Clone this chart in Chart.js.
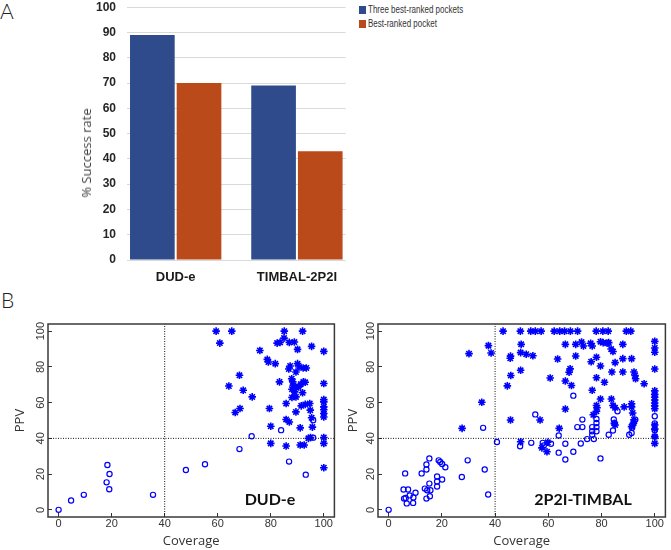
<!DOCTYPE html>
<html>
<head>
<meta charset="utf-8">
<title>Pocket prediction</title>
<script src="https://cdn.jsdelivr.net/npm/chart.js@4.4.0/dist/chart.umd.min.js"></script>
<style>
  body { margin: 0; width: 671px; height: 550px; position: relative; overflow: hidden; background: #fff; }
  .box { position: absolute; }
  .panel { position: absolute; font-family: Lato, sans-serif; font-weight: 300; font-size: 21px; line-height: 21px; color: #222; }
  .tag { position: absolute; transform: translateX(-50%); font-family: Lato, sans-serif; font-weight: bold; font-size: 16px; line-height: 16px; color: #111; white-space: nowrap; }
  #ytitle { position: absolute; left: 86px; top: 153px; transform: translate(-50%, -50%) rotate(-90deg); font: 13px 'Open Sans', sans-serif; color: #404040; white-space: nowrap; }
  #legend { position: absolute; left: 359px; top: 3px; font: 10px 'Liberation Sans', sans-serif; color: #333; }
  #legend div { height: 13.5px; line-height: 13.5px; white-space: nowrap; }
  #legend span.key { display: inline-block; width: 7px; height: 8px; margin-right: 2px; vertical-align: -1px; }
  #legend span.txt { display: inline-block; transform: scaleX(0.8); transform-origin: 0 50%; }
</style>
</head>
<body>
<div class="panel" style="left:0;top:0">A</div>
<div class="panel" style="left:1px;top:289px">B</div>

<div class="box" style="left:0;top:0"><canvas id="chartBar" width="347" height="300"></canvas></div>
<div id="ytitle">% Success rate</div>
<div id="legend"></div>

<div class="box" style="left:0;top:310px"><canvas id="chartDud" width="340" height="240"></canvas></div>
<div class="box" style="left:340px;top:310px"><canvas id="chartTimbal" width="331" height="240"></canvas></div>
<div class="tag" style="left:270px;top:491px">DUD-e</div>
<div class="tag" style="left:583px;top:491px">2P2I-TIMBAL</div>

<script>
// Panel A: success rates per benchmark
var categories = ['DUD-e', 'TIMBAL-2P2I'];
var threeBest = [89, 69];
var bestRanked = [70, 43];
var barTicks = [0, 10, 20, 30, 40, 50, 60, 70, 80, 90, 100];

// Panel B: coverage / PPV of predicted pockets, [coverage, ppv]
var scatterTicks = [0, 20, 40, 60, 80, 100];
var cutoff = 40;

var dudStars = [
  [59.4, 100], [65.3, 100], [85.1, 100], [92, 100], [60.8, 93.3], [85, 96.1], [82.4, 93.3], [83.5, 93.7],
  [87, 93.7], [88.9, 93.9], [95.4, 91.5], [90.1, 89.8], [100, 88.7], [75.9, 89.2], [78.7, 84.2], [79.1, 82.7],
  [81.7, 81.8], [90.1, 81.8], [90.7, 79.9], [87.3, 80.5], [86.8, 78.8], [92.2, 79.4], [93.4, 79.4], [89.5, 77.1],
  [68.2, 75.3], [87.9, 73.4], [88.3, 71.6], [83.3, 71.6], [92.3, 71.6], [93, 71.4], [91.3, 70.3], [100, 70.7],
  [64.2, 69.3], [69.6, 66.9], [88.5, 69.5], [89.5, 68.5], [88, 67.5], [89, 66], [92, 65.5], [90.5, 68.8],
  [73, 63.2], [88, 62.9], [89.5, 63.2], [85.8, 59.5], [91.5, 58.2], [93, 59], [94.7, 59.5], [100, 61.7],
  [100, 60.4], [100, 57.6], [100, 56], [100, 53.9], [100, 52], [79.5, 56.7], [66.6, 54.5], [68.4, 56.7],
  [89.5, 54.8], [94.9, 55.8], [95.4, 51.5], [85.8, 50.6], [87, 49.2], [80, 46.8], [91.1, 45.9], [95.7, 46.3],
  [94.2, 40], [95, 40.5], [100, 40.5], [80, 37.2], [85.8, 35.7], [91.1, 36.3], [92.6, 36.3], [100, 37.2],
  [100, 23.6]
];
var dudCircles = [
  [0, 0], [4.7, 5.2], [9.5, 8.4], [18.4, 25.1], [19.2, 20.1], [18.1, 15.4], [19.1, 11.5], [35.6, 8.4],
  [48, 22.3], [55.2, 25.5], [68.2, 34], [72.8, 41.2], [83.9, 44.6], [86.9, 27], [93.2, 19.7], [96, 40.4],
  [96, 50.2]
];

var timbalStars = [
  [43, 100], [49.5, 100], [53.4, 100], [55.1, 100], [57.3, 100], [62.2, 100], [64.3, 100], [66.1, 100],
  [68.3, 100], [71, 100], [78, 100], [80.5, 100], [82.5, 100], [89.3, 100], [91, 100],
  [30.2, 87.4], [37.5, 91.9], [38.5, 87.8], [35, 60.2], [27.6, 45.6],
  [49.8, 92.6], [49.6, 88], [51.7, 87.1], [54.2, 86.2], [45.8, 86], [45.7, 84.8], [49.6, 78.1], [45.9, 75.2],
  [44.6, 69.4], [45.8, 50.3], [49.6, 38.1], [56.9, 50.3], [60.7, 73.8], [63.5, 84.4], [64.1, 45.6], [59.8, 37.8],
  [59.5, 32.5], [57.6, 34.7], [66.4, 92.6], [70.3, 92.6], [72.5, 93.9], [73.2, 91.7], [75.9, 93.2], [76.5, 91.7],
  [79.6, 94.1], [80.6, 93.6], [82.1, 93.2], [82.7, 93.6], [83.6, 90], [84.3, 88.6], [88, 92.6],
  [70.3, 86.1], [76.1, 82.9], [78.1, 85.4], [68.2, 78.9], [67.8, 77], [79.6, 80.5], [85.1, 82.4], [88, 84.6],
  [91.3, 84.6], [83.9, 77.1], [88, 77.1], [78.1, 73.9], [81.1, 71.4], [92.2, 77.1], [92.6, 75.2], [92.8, 73.4],
  [96, 70.6], [66.4, 72.1], [68.7, 69.6], [76.5, 66.9], [79.6, 62], [83.7, 62], [78.1, 58.4], [78.3, 57.1],
  [78.1, 55.2], [76.9, 53.2], [84.3, 58.4], [85.1, 57.1], [88.5, 57.6], [91.3, 59.4], [91.3, 57.6], [91.7, 54.2],
  [92.2, 50.4], [92, 48.5], [91.3, 46.6], [66.4, 56.4], [84.8, 48.4], [85.1, 47.5],
  [100, 94.3], [100, 90.6], [100, 88.2], [100, 78.8], [100, 66.6], [100, 64.6], [100, 63], [100, 61.5],
  [100, 59.8], [100, 58.2], [100, 56.6], [100, 47.5], [100, 45.2], [100, 41], [100, 37.2]
];
var timbalCircles = [
  [0, 0], [6.2, 20.4], [5.6, 11.4], [7.3, 11.4], [5.8, 6.3], [6.4, 6.6], [6.8, 3.6], [7.9, 8.1],
  [9.3, 6.9], [9.2, 3.9], [10.1, 9.6], [12.4, 20.4], [14.2, 22.6], [14.2, 25.4], [15.3, 28.8], [13.6, 11.9],
  [14.5, 11], [15.7, 11], [15.3, 14.7], [15.5, 7.6], [14.2, 6.3], [18.2, 18.7], [18.2, 15.9], [18.2, 13.1],
  [20.1, 17], [18.8, 27.7], [19.4, 26.8], [20.1, 25.7], [21.3, 23.8], [29.7, 27.7], [27.5, 18.4], [36.1, 22.6],
  [37.4, 8.6], [35.5, 45.9], [40.7, 38], [49.4, 35.6],
  [55.1, 53.4], [53.6, 37.5], [57.9, 37.5], [58.3, 36], [61, 37], [63.9, 32], [66.4, 37], [66.4, 28.2],
  [69.4, 32.5], [63.9, 41.6], [69.4, 63.9], [70.9, 46.3], [72.8, 46.3], [72.8, 50.5], [72.2, 37.1], [74.6, 39.6],
  [76.5, 46.3], [78.1, 46.3], [76.5, 44], [78.1, 44], [76.5, 42], [77.1, 39.6], [78.1, 48.6], [78.1, 50.8],
  [79.6, 28.8], [82.7, 42], [84.3, 44.4], [84.9, 48.5], [84.6, 50.6], [86, 55.2], [90.4, 42], [91.3, 43],
  [91.5, 46], [92, 48.5], [92.7, 50.5], [100, 52.4], [100, 48.4], [100, 44.5], [100, 41]
];

var plainFont = "'Liberation Sans', Arial, sans-serif";

// Bar chart (panel A)
function loadBarChart() {
  var toPoints = function(values) {
    return categories.map(function(c, i) { return { x: i, y: values[i] }; });
  };
  var ctx = document.getElementById('chartBar').getContext('2d');
  var chart = new Chart(ctx, {
    type: 'bar',
    data: {
      datasets: [
        { label: 'Three best-ranked pockets', data: toPoints(threeBest), backgroundColor: '#2f4b8c',
          categoryPercentage: 0.77, barPercentage: 0.957 },
        { label: 'Best-ranked pocket', data: toPoints(bestRanked), backgroundColor: '#bb4a1b',
          categoryPercentage: 0.77, barPercentage: 0.957 }
      ]
    },
    options: {
      responsive: false,
      animation: false,
      plugins: { legend: { display: false }, tooltip: { enabled: false } },
      scales: {
        x: {
          type: 'linear', min: -0.4016, max: 1.4016, offset: false,
          grid: { display: false, drawTicks: false, offset: false }, border: { display: false },
          afterBuildTicks: function(s) { s.ticks = categories.map(function(c, i) { return { value: i }; }); },
          afterFit: function(s) { s.height = 40; },
          ticks: {
            callback: function(v) { return categories[v]; },
            font: { family: plainFont, size: 13, weight: 'bold' }, color: '#1a1a1a', padding: 10, maxRotation: 0
          }
        },
        y: {
          min: 0, max: 100,
          afterBuildTicks: function(s) { s.ticks = barTicks.map(function(v) { return { value: v }; }); },
          afterFit: function(s) { s.width = 127; },
          // invisible tick marks push the labels left without adding top padding
          grid: { color: '#d9d9d9', drawTicks: true, tickLength: 11, tickColor: 'rgba(0,0,0,0)' },
          border: { display: false },
          ticks: { font: { family: plainFont, size: 12, weight: 'bold' }, color: '#262626', padding: 0 }
        }
      }
    }
  });

  // HTML legend built from the datasets
  var legend = document.getElementById('legend');
  chart.data.datasets.forEach(function(ds) {
    var row = document.createElement('div');
    row.innerHTML = '<span class="key" style="background:' + ds.backgroundColor + '"></span>' +
      '<span class="txt">' + ds.label + '</span>';
    legend.appendChild(row);
  });
}

// Box around the plot region, R style
var framePlugin = {
  id: 'frame',
  afterDraw: function(chart) {
    var a = chart.chartArea;
    var ctx = chart.ctx;
    ctx.save();
    ctx.strokeStyle = '#3a3a3a';
    ctx.lineWidth = 1.5;
    ctx.strokeRect(a.left, a.top, a.right - a.left, a.bottom - a.top);
    ctx.restore();
  }
};

// Scatter chart (panel B)
function loadScatter(canvasId, stars, circles, box) {
  var toPoints = function(list) {
    return list.map(function(p) { return { x: p[0], y: p[1] }; });
  };
  var tickFont = { family: plainFont, size: 11 };
  var titleFont = { family: "'Open Sans', sans-serif", size: 13 };
  var setTicks = function(s) { s.ticks = scatterTicks.map(function(v) { return { value: v }; }); };
  var refLine = { showLine: true, borderColor: '#111', borderWidth: 1, borderDash: [1, 1.5], pointRadius: 0 };

  var ctx = document.getElementById(canvasId).getContext('2d');
  new Chart(ctx, {
    type: 'scatter',
    data: {
      datasets: [
        Object.assign({ data: [{ x: cutoff, y: -4 }, { x: cutoff, y: 104 }] }, refLine),
        Object.assign({ data: [{ x: -4, y: cutoff }, { x: 104, y: cutoff }] }, refLine),
        { data: toPoints(circles), pointStyle: 'circle', pointRadius: 2.6, borderWidth: 1.2,
          borderColor: '#0000ff', backgroundColor: 'rgba(0,0,0,0)' },
        { data: toPoints(stars), pointStyle: 'star', pointRadius: 3.8, borderWidth: 1.6,
          borderColor: '#0000ff', backgroundColor: 'rgba(0,0,0,0)' }
      ]
    },
    options: {
      responsive: false,
      animation: false,
      layout: { padding: { top: 14, right: box.padRight, left: 0, bottom: 0 } },
      plugins: { legend: { display: false }, tooltip: { enabled: false } },
      scales: {
        x: {
          type: 'linear', min: -4, max: 104,
          afterBuildTicks: setTicks,
          afterFit: function(s) { s.height = 33; },
          grid: { drawOnChartArea: false, tickLength: -4, color: '#333' }, border: { display: false },
          ticks: { font: tickFont, color: '#333', padding: 4, maxRotation: 0 },
          title: { display: true, text: 'Coverage', font: titleFont, color: '#333', padding: { top: 0, bottom: 1 } }
        },
        y: {
          min: -4, max: 104,
          afterBuildTicks: setTicks,
          afterFit: function(s) { s.width = box.axisWidth; },
          grid: { drawOnChartArea: false, tickLength: -4, color: '#333' }, border: { display: false },
          ticks: { font: tickFont, color: '#333', padding: 2.3, minRotation: 90, maxRotation: 90, crossAlign: 'center' },
          title: { display: true, text: 'PPV', font: titleFont, color: '#333', padding: { top: box.titlePad, bottom: 0 } }
        }
      }
    },
    plugins: [framePlugin]
  });
}

loadBarChart();
loadScatter('chartDud', dudStars, dudCircles, { axisWidth: 48, padRight: 1, titlePad: 12 });
loadScatter('chartTimbal', timbalStars, timbalCircles, { axisWidth: 38, padRight: 3.5, titlePad: 5 });
</script>
</body>
</html>
